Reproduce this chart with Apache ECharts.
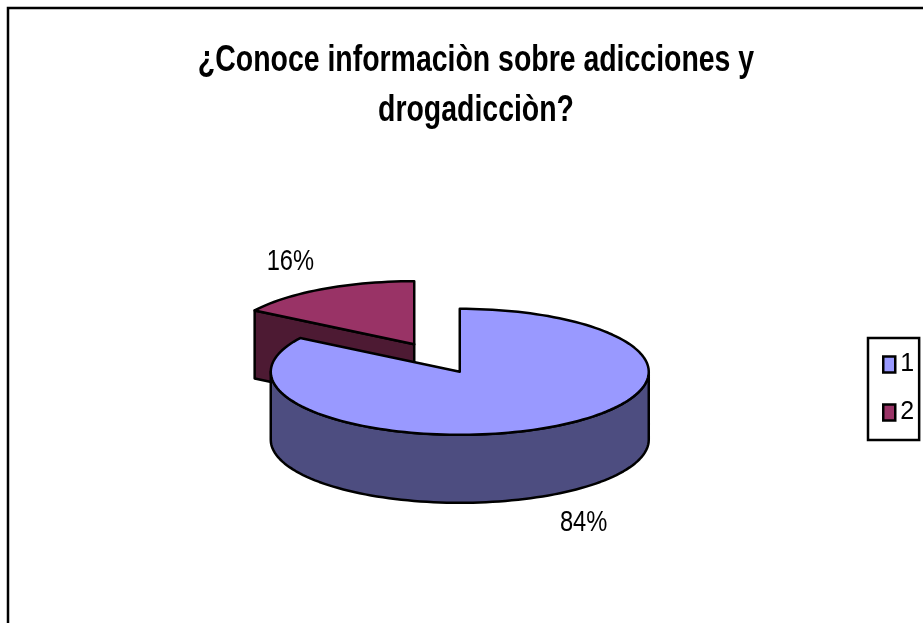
<!DOCTYPE html>
<html>
<head>
<meta charset="utf-8">
<style>
  html, body { margin: 0; padding: 0; background: #fff; }
  #chart { width: 923px; height: 623px; }
</style>
<script src="https://cdn.jsdelivr.net/npm/echarts@6/dist/echarts.min.js"></script>
</head>
<body>
<div id="chart"></div>
<script>
var titleText = '¿Conoce informaciòn sobre adicciones y\ndrogadicciòn?'
var categories = ['1', '2']
var percents = [84, 16]
var topColors = ['#9999ff', '#993366']
var sideColors = ['#4d4d80', '#4d1a33']

var fontName = '"Liberation Sans", sans-serif'
// the original text is squeezed sideways, no narrow font here so scale it
var squeeze = 0.79
var pie = { cx: 437, cy: 358, rx: 189, ry: 63, depth: 68, explode: 0.25 }

function rad (deg) {
  return deg * Math.PI / 180
}

function arcPoints (c, from, to, dy) {
  var pts = []
  var n = Math.max(2, Math.ceil(Math.abs(to - from) / 2))
  for (var i = 0; i <= n; i++) {
    var a = rad(from + (to - from) * i / n)
    pts.push([c.x + pie.rx * Math.sin(a), c.y - pie.ry * Math.cos(a) + dy])
  }
  return pts
}

function renderSlice (idx) {
  return function (params, api) {
    var before = 0
    for (var i = 0; i < idx; i++) before += percents[i]
    var value = api.value(0)
    var start = before * 3.6
    var end = (before + value) * 3.6
    var mid = rad((start + end) / 2)
    var c = {
      x: pie.cx + pie.explode * pie.rx * Math.sin(mid),
      y: pie.cy - pie.explode * pie.ry * Math.cos(mid)
    }
    var line = { stroke: '#000', lineWidth: 2.5, lineJoin: 'round' }
    var children = []

    // start edge face, only when it looks towards the viewer
    if (Math.sin(rad(start)) < -0.001) {
      var p = arcPoints(c, start, start, 0)[0]
      children.push({
        type: 'polygon',
        shape: { points: [[c.x, c.y], p, [p[0], p[1] + pie.depth], [c.x, c.y + pie.depth]] },
        style: Object.assign({ fill: sideColors[idx] }, line)
      })
    }

    // outer wall, front half of the ellipse only
    var wallFrom = Math.max(start, 90)
    var wallTo = Math.min(end, 270)
    if (wallTo > wallFrom) {
      var upper = arcPoints(c, wallFrom, wallTo, 0)
      var lower = arcPoints(c, wallFrom, wallTo, pie.depth).reverse()
      children.push({
        type: 'polygon',
        shape: { points: upper.concat(lower) },
        style: Object.assign({ fill: sideColors[idx] }, line)
      })
    }

    children.push({
      type: 'polygon',
      shape: { points: [[c.x, c.y]].concat(arcPoints(c, start, end, 0)) },
      style: Object.assign({ fill: topColors[idx] }, line)
    })

    var front = Math.cos(mid) < 0
    children.push({
      type: 'text',
      x: c.x + 1.36 * pie.rx * Math.sin(mid),
      y: c.y - 1.5 * pie.ry * Math.cos(mid) + (front ? pie.depth : 0),
      scaleX: squeeze,
      style: {
        text: value + '%',
        x: 0,
        y: 0,
        textAlign: 'center',
        textVerticalAlign: 'middle',
        font: '30px ' + fontName,
        fill: '#000'
      }
    })
    return { type: 'group', children: children }
  }
}

var chart = echarts.init(document.getElementById('chart'))
var option = {
  animation: false,
  backgroundColor: '#fff',
  legend: {
    orient: 'vertical',
    left: 868,
    top: 338,
    padding: [14, 5, 15, 14],
    itemWidth: 12,
    itemHeight: 16,
    itemGap: 23,
    borderColor: '#000',
    borderWidth: 2.5,
    backgroundColor: '#fff',
    selectedMode: false,
    textStyle: { fontFamily: fontName, fontSize: 25, color: '#000' },
    data: categories.map(function (name, i) {
      return {
        name: name,
        icon: 'rect',
        itemStyle: { color: topColors[i], borderColor: '#000', borderWidth: 2.5 }
      }
    })
  },
  graphic: [{
    type: 'rect',
    silent: true,
    z: -10,
    shape: { x: 8, y: 8, width: 960, height: 660 },
    style: { fill: 'none', stroke: '#000', lineWidth: 2.5 }
  }, {
    type: 'text',
    silent: true,
    x: 476,
    y: 36,
    scaleX: squeeze,
    style: {
      text: titleText,
      x: 0,
      y: 0,
      textAlign: 'center',
      font: 'bold 36px ' + fontName,
      lineHeight: 50,
      fill: '#000'
    }
  }],
  series: categories.map(function (name, i) {
    return {
      type: 'custom',
      name: name,
      coordinateSystem: 'none',
      z: 5 - i,
      silent: true,
      itemStyle: { color: topColors[i] },
      data: [[percents[i]]],
      renderItem: renderSlice(i)
    }
  })
}
chart.setOption(option)
</script>
</body>
</html>
